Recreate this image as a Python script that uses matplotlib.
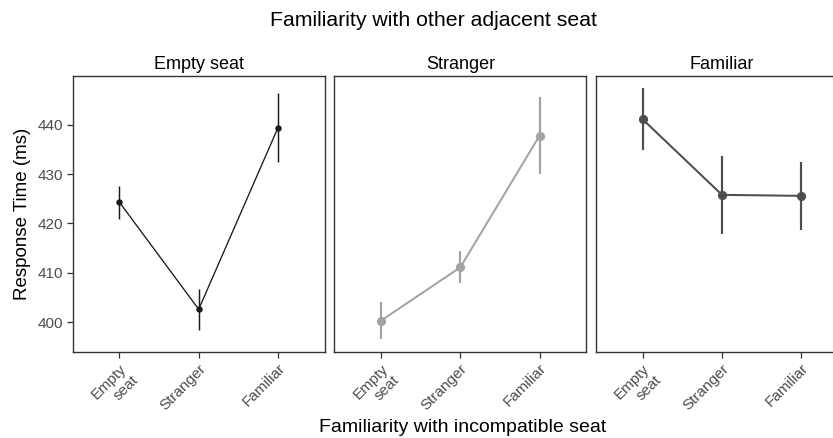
import matplotlib.pyplot as plt

# conditions on the x axis and facet panels
levels = ["Empty\nseat", "Stranger", "Familiar"]
panels = ["Empty seat", "Stranger", "Familiar"]

# mean response times and error bar ends, one list per panel
empty_mean = [424.3, 402.6, 439.4]
empty_lo = [421.0, 398.5, 432.4]
empty_hi = [427.6, 406.8, 446.4]

stranger_mean = [400.3, 411.1, 437.8]
stranger_lo = [396.5, 407.9, 430.1]
stranger_hi = [404.1, 414.4, 445.6]

familiar_mean = [441.1, 425.8, 425.6]
familiar_lo = [434.8, 417.9, 418.6]
familiar_hi = [447.4, 433.7, 432.5]

plt.rcParams['font.family'] = ['Liberation Sans', 'DejaVu Sans']

fig = plt.figure(figsize=(8.33, 4.38), dpi=100)

data = [(empty_mean, empty_lo, empty_hi),
        (stranger_mean, stranger_lo, stranger_hi),
        (familiar_mean, familiar_lo, familiar_hi)]
colors = ["#1a1a1a", "#a3a3a3", "#4d4d4d"]
lws = [0.95, 1.45, 1.45]
msizes = [3.6, 5.6, 5.6]
lefts = [72.7, 334.3, 596.0]
W, H = 833.0, 438.0

x = [1, 2, 3]
for i in range(3):
    ax = fig.add_axes([lefts[i] / W, 1 - 351.7 / H, 252 / W, (351.7 - 76) / H])
    mean, lo, hi = data[i]
    ax.vlines(x, lo, hi, color=colors[i], lw=lws[i] + 0.1)
    ax.plot(x, mean, color=colors[i], lw=lws[i], marker='o', ms=msizes[i])
    ax.set_xlim(0.41, 3.59)
    ax.set_ylim(394.0, 449.9)
    ax.set_xticks(x)
    ax.set_xticklabels(levels, rotation=45, ha='right', rotation_mode='anchor',
                       fontsize=11, color='#4d4d4d', multialignment='right')
    ax.set_yticks([400, 410, 420, 430, 440])
    if i == 0:
        ax.set_yticklabels(["400", "410", "420", "430", "440"], fontsize=11, color='#4d4d4d')
        ax.set_ylabel("Response Time (ms)", fontsize=13.5, labelpad=5)
    else:
        ax.tick_params(axis='y', left=False, labelleft=False)
    ax.tick_params(axis='both', length=4, width=0.9, color='#333333', pad=3)
    for s in ax.spines.values():
        s.set_color('#333333')
        s.set_linewidth(1.0)
    ax.set_title(panels[i], fontsize=13, pad=5)

fig.text(433 / W, 1 - 20 / H, "Familiarity with other adjacent seat",
         ha='center', va='center', fontsize=15.3)
fig.text(463 / W, 1 - 427 / H, "Familiarity with incompatible seat",
         ha='center', va='center', fontsize=14)

fig.savefig("out.png", dpi=100)
